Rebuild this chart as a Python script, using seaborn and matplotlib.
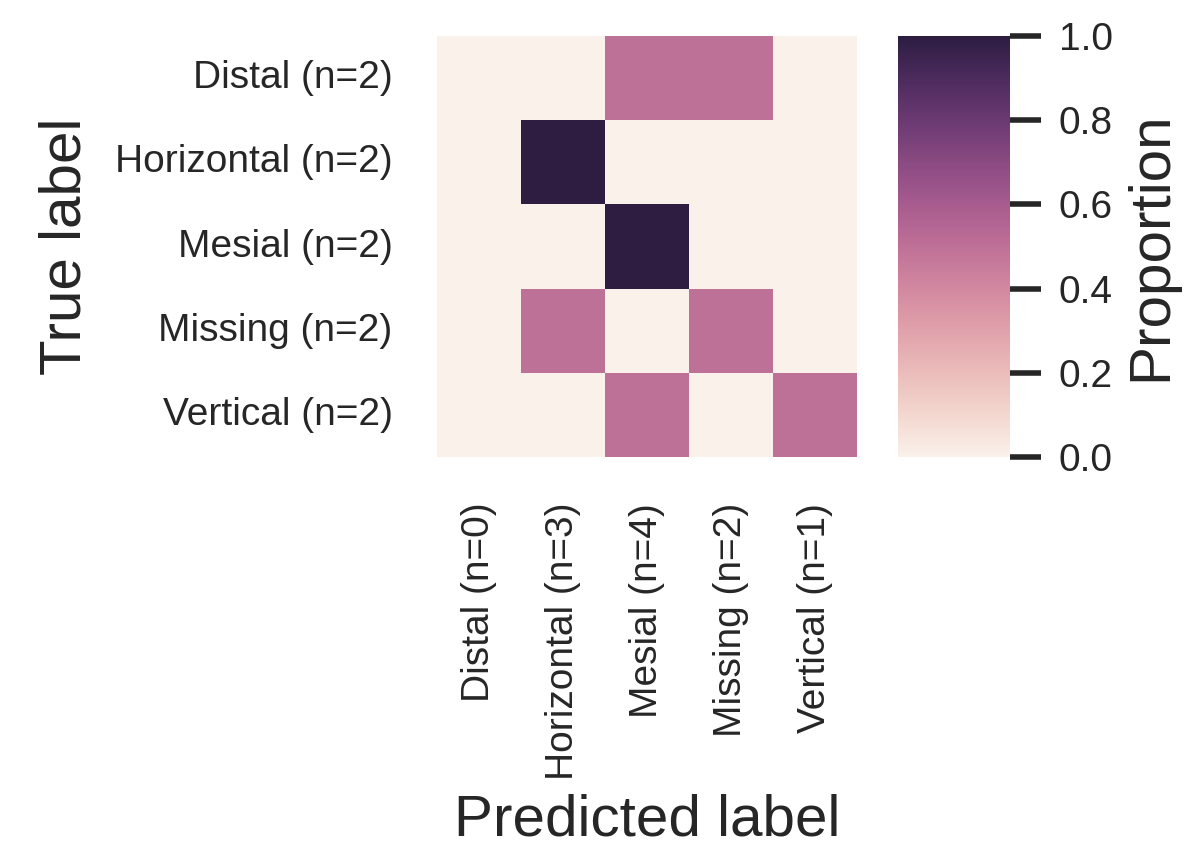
import matplotlib
matplotlib.use("Agg")
import matplotlib.pyplot as plt
import numpy as np
import pandas as pd
import seaborn as sns

TRUE_LABELS: list[str] = [
    "Distal (n=2)",
    "Horizontal (n=2)",
    "Mesial (n=2)",
    "Missing (n=2)",
    "Vertical (n=2)",
]
PREDICTED_LABELS: list[str] = [
    "Distal (n=0)",
    "Horizontal (n=3)",
    "Mesial (n=4)",
    "Missing (n=2)",
    "Vertical (n=1)",
]
DISTAL_ROW: list[float] = [0.0, 0.0, 0.5, 0.5, 0.0]
HORIZONTAL_ROW: list[float] = [0.0, 1.0, 0.0, 0.0, 0.0]
MESIAL_ROW: list[float] = [0.0, 0.0, 1.0, 0.0, 0.0]
MISSING_ROW: list[float] = [0.0, 0.5, 0.0, 0.5, 0.0]
VERTICAL_ROW: list[float] = [0.0, 0.0, 0.5, 0.0, 0.5]
CBAR_TICKS: list[float] = [0.0, 0.2, 0.4, 0.6, 0.8, 1.0]

sns.set_theme(style="white")
plt.rcParams["font.family"] = ["Liberation Sans", "DejaVu Sans"]
plt.rcParams["text.color"] = "#262626"
plt.rcParams["axes.labelcolor"] = "#262626"
plt.rcParams["xtick.color"] = "#262626"
plt.rcParams["ytick.color"] = "#262626"

confusion = pd.DataFrame(
    np.array([DISTAL_ROW, HORIZONTAL_ROW, MESIAL_ROW, MISSING_ROW, VERTICAL_ROW]),
    index=TRUE_LABELS,
    columns=PREDICTED_LABELS,
)

fig = plt.figure(figsize=(11.92, 8.49), dpi=100)
ax = fig.add_axes([437 / 1192, 1 - 457 / 849, 420 / 1192, 421 / 849])
cbar_ax = fig.add_axes([898 / 1192, 1 - 457 / 849, 112 / 1192, 421 / 849])

cmap = sns.cubehelix_palette(light=0.95, dark=0.15, hue=0.92, as_cmap=True)
sns.heatmap(
    confusion,
    ax=ax,
    cbar_ax=cbar_ax,
    cmap=cmap,
    vmin=0,
    vmax=1,
    cbar_kws={"ticks": CBAR_TICKS},
)

ax.tick_params(axis="both", length=0, labelsize=28)
ax.tick_params(axis="y", pad=32, rotation=0)
ax.tick_params(axis="x", pad=33, rotation=90)
ax.set_ylabel("True label", fontsize=42)
ax.set_xlabel("Predicted label", fontsize=42)
ax.yaxis.set_label_coords(-0.82, 0.5)
ax.xaxis.set_label_coords(0.5, -0.898)
ax.xaxis.label.set_verticalalignment("baseline")

cbar = ax.collections[0].colorbar
cbar.outline.set_visible(False)
cbar_ax.tick_params(axis="y", right=True, length=22, width=4, pad=13, labelsize=28, color="#262626")
cbar_ax.set_yticklabels([f"{t:.1f}" for t in CBAR_TICKS])
cbar.set_label("Proportion", fontsize=42, labelpad=8)

fig.savefig("out.png", dpi=100, facecolor="white")
